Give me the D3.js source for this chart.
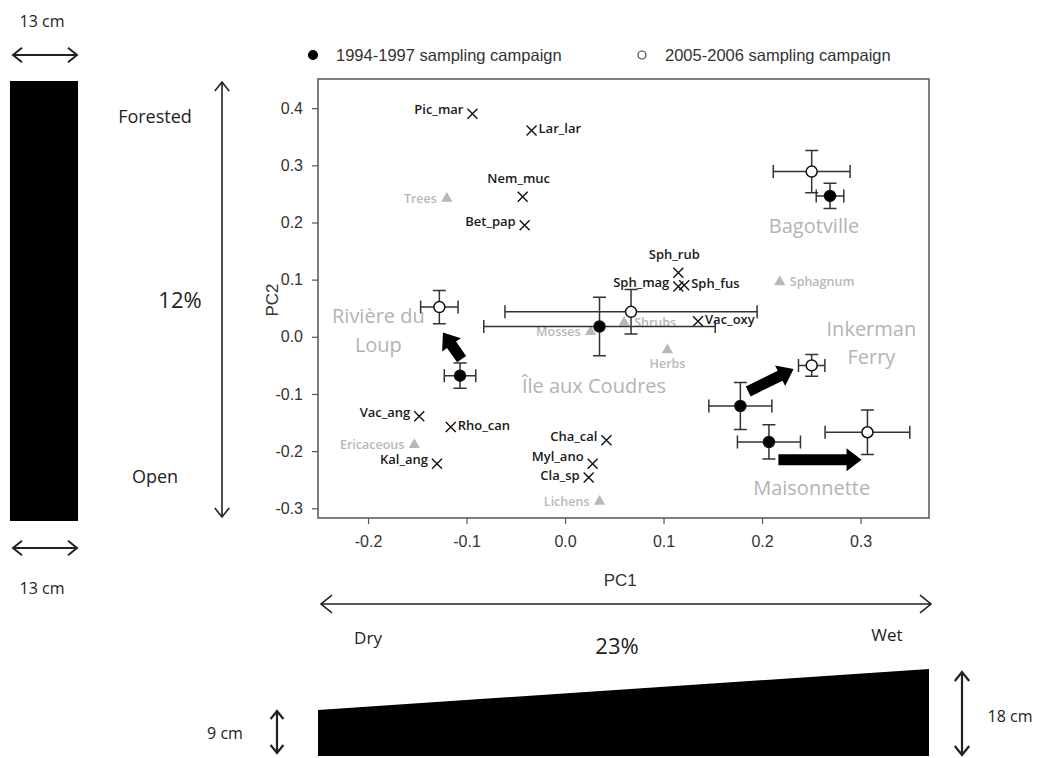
<!DOCTYPE html>
<html>
<head>
<meta charset="utf-8">
<script src="https://cdn.jsdelivr.net/npm/d3@7"></script>
<style>
  body { margin: 0; background: #fff; }
  svg text { font-family: "Open Sans", sans-serif; }
</style>
</head>
<body>
<script>
// species scores (black crosses)
var speciesNames = ["Pic_mar", "Lar_lar", "Nem_muc", "Bet_pap", "Sph_rub", "Sph_mag", "Sph_fus",
                    "Vac_oxy", "Vac_ang", "Rho_can", "Kal_ang", "Cha_cal", "Myl_ano", "Cla_sp"];
var speciesPC1 = [-0.094, -0.034, -0.043, -0.041, 0.115, 0.115, 0.121,
                  0.135, -0.148, -0.116, -0.130, 0.042, 0.028, 0.024];
var speciesPC2 = [0.390, 0.361, 0.245, 0.195, 0.112, 0.088, 0.090,
                  0.027, -0.139, -0.158, -0.222, -0.181, -0.222, -0.246];
var speciesLabelSide = ["left", "right", "above", "left", "above", "left", "right",
                        "right", "left", "right", "left", "left", "left", "left"];
var speciesLabelNudge = [0, 0, 0, 0, 0, 0, 0, 0, 0, 0, 0, 0, -3, 2];

// plant group centroids (grey triangles)
var groupNames = ["Trees", "Sphagnum", "Mosses", "Shrubs", "Herbs", "Ericaceous", "Lichens"];
var groupPC1 = [-0.120, 0.218, 0.026, 0.060, 0.104, -0.153, 0.035];
var groupPC2 = [0.242, 0.096, 0.009, 0.025, -0.023, -0.189, -0.288];
var groupLabelSide = ["left", "right", "left", "right", "below", "left", "left"];

// site means with error bars, 1994-1997 campaign (filled) and 2005-2006 (open)
var siteNames = ["Bagotville", "Rivière du Loup", "Île aux Coudres", "Inkerman Ferry", "Maisonnette"];
var earlyPC1 = [0.269, -0.1066, 0.035, 0.178, 0.207];
var earlyPC2 = [0.2465, -0.068, 0.018, -0.121, -0.184];
var earlyErrPC1 = [0.014, 0.016, 0.1175, 0.032, 0.032];
var earlyErrPC2 = [0.022, 0.022, 0.051, 0.041, 0.030];
var latePC1 = [0.2504, -0.1276, 0.067, 0.2504, 0.307];
var latePC2 = [0.289, 0.052, 0.0437, -0.050, -0.167];
var lateErrPC1 = [0.039, 0.019, 0.128, 0.0134, 0.043];
var lateErrPC2 = [0.037, 0.029, 0.039, 0.019, 0.039];

// site name annotations (lines and anchor in PC units)
var siteLabelLines = [["Bagotville"], ["Rivière du", "Loup"], ["Île aux Coudres"], ["Inkerman", "Ferry"], ["Maisonnette"]];
var siteLabelPC1 = [0.2528, -0.1895, 0.0294, 0.311, 0.2504];
var siteLabelPC2 = [0.193, 0.011, -0.086, -0.011, -0.2645];

// change arrows (PC units)
var arrowFromPC1 = [-0.105, 0.186, 0.2166];
var arrowFromPC2 = [-0.039, -0.0956, -0.215];
var arrowToPC1 = [-0.124, 0.232, 0.301];
var arrowToPC2 = [0.0075, -0.0565, -0.215];

var xTicks = [-0.2, -0.1, 0.0, 0.1, 0.2, 0.3];
var yTicks = [-0.3, -0.2, -0.1, 0.0, 0.1, 0.2, 0.3, 0.4];
var legendLabels = ["1994-1997 sampling campaign", "2005-2006 sampling campaign"];

var svgWidth = 1041, svgHeight = 758;
var margin = { top: 79, right: 112, bottom: 240, left: 318 };
var chartWidth = svgWidth - margin.left - margin.right;
var chartHeight = svgHeight - margin.top - margin.bottom;

var svg = d3.select("body").append("svg")
    .attr("width", svgWidth)
    .attr("height", svgHeight);

var xScale = d3.scaleLinear().domain([-0.2508, 0.3695]).range([0, chartWidth]);
var yScale = d3.scaleLinear().domain([-0.3170, 0.4510]).range([chartHeight, 0]);

var chartGroup = svg.append("g")
    .attr("transform", `translate(${margin.left}, ${margin.top})`);

// axes, R style
var fmt = function(d) { return d3.format(".1f")(d).replace("−", "-"); };
var xAxis = d3.axisBottom(xScale).tickValues(xTicks).tickFormat(fmt).tickSize(6).tickPadding(12);
var yAxis = d3.axisLeft(yScale).tickValues(yTicks).tickFormat(fmt).tickSize(6).tickPadding(9);

var gx = chartGroup.append("g").attr("transform", `translate(0, ${chartHeight})`).call(xAxis);
var gy = chartGroup.append("g").call(yAxis);
[gx, gy].forEach(function(g) {
  g.select(".domain").remove();
  g.selectAll("line").attr("stroke", "#555").attr("stroke-width", 1.2);
  g.selectAll("text")
      .attr("fill", "#333")
      .style("font-family", "'Liberation Sans', Arial, sans-serif")
      .style("font-size", "16px");
});

chartGroup.append("rect")
    .attr("width", chartWidth)
    .attr("height", chartHeight)
    .attr("fill", "none")
    .attr("stroke", "#555")
    .attr("stroke-width", 1.5);

// axis titles
svg.append("text")
    .attr("transform", "translate(278, 300) rotate(-90)")
    .attr("text-anchor", "middle")
    .attr("fill", "#333")
    .style("font-family", "'Liberation Sans', Arial, sans-serif")
    .style("font-size", "17px")
    .text("PC2");
svg.append("text")
    .attr("x", margin.left + xScale(0.056))
    .attr("y", 586)
    .attr("text-anchor", "middle")
    .attr("fill", "#333")
    .style("font-family", "'Liberation Sans', Arial, sans-serif")
    .style("font-size", "17px")
    .text("PC1");

// site labels
siteNames.forEach(function(name, i) {
  var lines = siteLabelLines[i];
  var t = chartGroup.append("text")
      .attr("text-anchor", "middle")
      .attr("fill", "#b3b3b3")
      .style("font-size", "20px");
  lines.forEach(function(line, k) {
    t.append("tspan")
        .attr("x", xScale(siteLabelPC1[i]))
        .attr("y", yScale(siteLabelPC2[i]) + (k - (lines.length - 1) / 2) * 28.5)
        .attr("dy", "0.35em")
        .text(line);
  });
});

// plant group triangles
var tri = d3.symbol().type(d3.symbolTriangle).size(55);
groupNames.forEach(function(name, i) {
  var px = xScale(groupPC1[i]), py = yScale(groupPC2[i]);
  chartGroup.append("path")
      .attr("d", tri)
      .attr("transform", `translate(${px}, ${py})`)
      .attr("fill", "#b8b8b8");
  var lab = chartGroup.append("text")
      .attr("fill", "#b8b8b8")
      .style("font-size", "12.5px")
      .style("font-weight", 600)
      .text(name);
  if (groupLabelSide[i] == "left") {
    lab.attr("x", px - 10).attr("y", py).attr("dy", "0.35em").attr("text-anchor", "end");
  } else if (groupLabelSide[i] == "right") {
    lab.attr("x", px + 10).attr("y", py).attr("dy", "0.35em").attr("text-anchor", "start");
  } else {
    lab.attr("x", px).attr("y", py + 14).attr("dy", "0.35em").attr("text-anchor", "middle");
  }
});

// species crosses
speciesNames.forEach(function(name, i) {
  var px = xScale(speciesPC1[i]), py = yScale(speciesPC2[i]) ;
  chartGroup.append("path")
      .attr("d", `M${px - 5},${py - 5}L${px + 5},${py + 5}M${px - 5},${py + 5}L${px + 5},${py - 5}`)
      .attr("stroke", "#111")
      .attr("stroke-width", 1.4);
  var ly = py + speciesLabelNudge[i];
  var lab = chartGroup.append("text")
      .attr("fill", "#1a1a1a")
      .style("font-size", "13px")
      .style("font-weight", 600)
      .text(name);
  if (speciesLabelSide[i] == "left") {
    lab.attr("x", px - 9).attr("y", ly - 4).attr("dy", "0.35em").attr("text-anchor", "end");
  } else if (speciesLabelSide[i] == "right") {
    lab.attr("x", px + 7).attr("y", ly - 2).attr("dy", "0.35em").attr("text-anchor", "start");
  } else {
    lab.attr("x", px - 4).attr("y", ly - 18).attr("dy", "0.35em").attr("text-anchor", "middle");
  }
});

// error bars and points
function drawSite(cx, cy, ex, ey, filled) {
  var x0 = xScale(cx - ex), x1 = xScale(cx + ex), px = xScale(cx);
  var y0 = yScale(cy - ey), y1 = yScale(cy + ey), py = yScale(cy);
  var cap = 6.5;
  var d = `M${x0},${py}L${x1},${py}M${x0},${py - cap}L${x0},${py + cap}M${x1},${py - cap}L${x1},${py + cap}` +
          `M${px},${y0}L${px},${y1}M${px - cap},${y0}L${px + cap},${y0}M${px - cap},${y1}L${px + cap},${y1}`;
  chartGroup.append("path")
      .attr("d", d)
      .attr("fill", "none")
      .attr("stroke", "#333")
      .attr("stroke-width", 1.5);
  chartGroup.append("circle")
      .attr("cx", px)
      .attr("cy", py)
      .attr("r", 5.5)
      .attr("fill", filled ? "#000" : "#fff")
      .attr("stroke", "#111")
      .attr("stroke-width", 1.5);
}
siteNames.forEach(function(name, i) {
  drawSite(earlyPC1[i], earlyPC2[i], earlyErrPC1[i], earlyErrPC2[i], true);
  drawSite(latePC1[i], latePC2[i], lateErrPC1[i], lateErrPC2[i], false);
});

// thick block arrows
function blockArrow(g, x1, y1, x2, y2) {
  var dx = x2 - x1, dy = y2 - y1, L = Math.hypot(dx, dy);
  var ux = dx / L, uy = dy / L, nx = -uy, ny = ux;
  var sw = 5.5, hw = 11.5, hl = 15;
  var bx = x2 - ux * hl, by = y2 - uy * hl;
  var pts = [[x1 + nx * sw, y1 + ny * sw], [bx + nx * sw, by + ny * sw], [bx + nx * hw, by + ny * hw],
             [x2, y2], [bx - nx * hw, by - ny * hw], [bx - nx * sw, by - ny * sw], [x1 - nx * sw, y1 - ny * sw]];
  g.append("polygon").attr("points", pts.map(function(p) { return p.join(","); }).join(" ")).attr("fill", "#000");
}
arrowFromPC1.forEach(function(d, i) {
  blockArrow(chartGroup, xScale(arrowFromPC1[i]), yScale(arrowFromPC2[i]), xScale(arrowToPC1[i]), yScale(arrowToPC2[i]));
});

// legend
var legendX = [313, 642];
legendLabels.forEach(function(label, i) {
  svg.append("circle")
      .attr("cx", legendX[i])
      .attr("cy", 55)
      .attr("r", i == 0 ? 4.5 : 4)
      .attr("fill", i == 0 ? "#000" : "#fff")
      .attr("stroke", i == 0 ? "#000" : "#444")
      .attr("stroke-width", 1.2);
  svg.append("text")
      .attr("x", legendX[i] + 23)
      .attr("y", 55)
      .attr("dy", "0.35em")
      .attr("fill", "#333")
      .style("font-family", "'Liberation Sans', Arial, sans-serif")
      .style("font-size", "16.5px")
      .text(label);
});

// schematic: double headed arrows
function dblArrow(x1, y1, x2, y2, head, width) {
  var dx = x2 - x1, dy = y2 - y1, L = Math.hypot(dx, dy);
  var ux = dx / L, uy = dy / L, nx = -uy, ny = ux;
  var hs = head * 0.8;
  var d = `M${x1},${y1}L${x2},${y2}` +
          `M${x1 + ux * head + nx * hs},${y1 + uy * head + ny * hs}L${x1},${y1}L${x1 + ux * head - nx * hs},${y1 + uy * head - ny * hs}` +
          `M${x2 - ux * head + nx * hs},${y2 - uy * head + ny * hs}L${x2},${y2}L${x2 - ux * head - nx * hs},${y2 - uy * head - ny * hs}`;
  svg.append("path")
      .attr("d", d)
      .attr("fill", "none")
      .attr("stroke", "#222")
      .attr("stroke-width", width)
      .attr("stroke-linejoin", "miter");
}
dblArrow(13, 55, 77, 55, 9, 2);
dblArrow(13, 548, 77, 548, 9, 2);
dblArrow(222, 82, 222, 517, 9, 1.6);
dblArrow(321, 604, 931, 604, 11, 1.6);
dblArrow(277, 711, 277, 753, 8, 2.2);
dblArrow(962, 672, 962, 755, 9, 2.2);

// black shapes
svg.append("rect").attr("x", 10).attr("y", 81).attr("width", 68).attr("height", 440).attr("fill", "#000");
svg.append("polygon").attr("points", "318,710 929,669 929,756 318,756").attr("fill", "#000");

// schematic texts
var notes = [
  ["13 cm", 42, 21, 16], ["13 cm", 42, 588, 16], ["Forested", 155, 117, 18], ["Open", 155, 477, 18],
  ["12%", 180, 300, 22], ["Dry", 368, 638, 17], ["23%", 617, 646, 22], ["Wet", 887, 635, 17],
  ["9 cm", 225, 733, 16], ["18 cm", 1010, 716, 16]
];
notes.forEach(function(n) {
  svg.append("text")
      .attr("x", n[1])
      .attr("y", n[2])
      .attr("dy", "0.35em")
      .attr("text-anchor", "middle")
      .attr("fill", "#222")
      .style("font-size", n[3] + "px")
      .text(n[0]);
});
</script>
</body>
</html>
